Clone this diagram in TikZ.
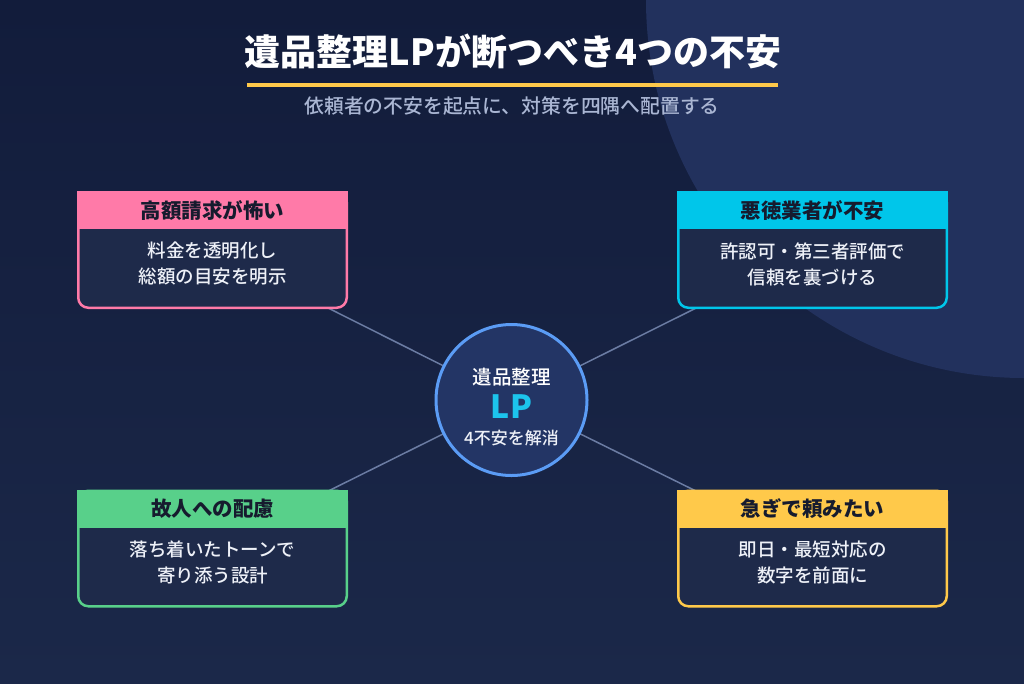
\documentclass[tikz,border=0pt]{standalone}
\usepackage{fontspec}
\setmainfont{Noto Sans CJK JP}
\newfontfamily\jpmed{Noto Sans CJK JP Medium}
\usetikzlibrary{positioning}
\definecolor{bgtop}{HTML}{121C3B}
\definecolor{bgbot}{HTML}{1B2849}
\definecolor{blob}{HTML}{22315D}
\definecolor{cardbg}{HTML}{1E2A4A}
\definecolor{headtxt}{HTML}{161B2E}
\definecolor{bodytxt}{HTML}{EEF1F8}
\definecolor{subtxt}{HTML}{AAB6D3}
\definecolor{linkc}{HTML}{6B7CA3}
\definecolor{hubbg}{HTML}{233565}
\definecolor{hubline}{HTML}{5B9CF5}
\definecolor{lpc}{HTML}{1CC4EC}
\definecolor{pinkc}{HTML}{FF7AA8}
\definecolor{cyanc}{HTML}{00C6EA}
\definecolor{greenc}{HTML}{58D08A}
\definecolor{yellowc}{HTML}{FFC94A}
\tikzset{
    card/.style={draw, line width=2.5pt, fill=cardbg, rounded corners=10pt,
      minimum width=268.5pt, minimum height=115.5pt, inner sep=0pt}, % frame of a box
    head/.style={minimum width=271pt, minimum height=38pt, inner sep=0pt,
      text=headtxt, font=\bfseries\fontsize{20.5}{24}\selectfont},
    body/.style={align=center, text=bodytxt, font=\jpmed\fontsize{18.5}{26}\selectfont},
    link/.style={draw=linkc, line width=1.5pt},
    hub/.style={circle, draw=hubline, line width=3pt, fill=hubbg,
      minimum size=151pt, inner sep=0pt},
}

\begin{document}
\begin{tikzpicture}[x=1pt, y=-1pt]
  \useasboundingbox (0,0) rectangle (1024,683);
  \fill[top color=bgtop, bottom color=bgbot] (0,0) rectangle (1024,683);
  \begin{scope}
    \clip (0,0) rectangle (1024,683);
    \fill[blob] (1024,0) circle[radius=378];
  \end{scope}

  \node[text=white, font=\bfseries\fontsize{36}{40}\selectfont] (title) at (513,51) {遺品整理LPが断つべき4つの不安};
  \coordinate (u1) at (247,85);
  \coordinate (u2) at (778,85);
  \draw[yellowc, line width=3.5pt] (u1) -- (u2);
  \node[text=subtxt, font=\jpmed\fontsize{19.8}{22}\selectfont] (sub) at (512,106) {依頼者の不安を起点に、対策を四隅へ配置する};

  \coordinate (hc) at (511.5,400);
  \coordinate (k1) at (212.5,250);
  \coordinate (k2) at (812.5,250);
  \coordinate (k3) at (212.5,548.5);
  \coordinate (k4) at (812.5,548.5);
  \draw[link] (hc) -- (k1);
  \draw[link] (hc) -- (k2);
  \draw[link] (hc) -- (k3);
  \draw[link] (hc) -- (k4);

  \node[card, draw=pinkc] (c1) at (k1) {};
  \node[head, fill=pinkc] (h1) at (212.5,210) {高額請求が怖い};
  \node[body] (t1) at (212.5,264) {料金を透明化し\\総額の目安を明示};

  \node[card, draw=cyanc] (c2) at (k2) {};
  \node[head, fill=cyanc] (h2) at (812.5,210) {悪徳業者が不安};
  \node[body] (t2) at (812.5,264) {許認可・第三者評価で\\信頼を裏づける};

  \node[card, draw=greenc] (c3) at (k3) {};
  \node[head, fill=greenc] (h3) at (212.5,508.5) {故人への配慮};
  \node[body] (t3) at (212.5,562) {落ち着いたトーンで\\寄り添う設計};

  \node[card, draw=yellowc] (c4) at (k4) {};
  \node[head, fill=yellowc] (h4) at (812.5,508.5) {急ぎで頼みたい};
  \node[body] (t4) at (812.5,562) {即日・最短対応の\\数字を前面に};

  \node[hub] (hub) at (hc) {};
  \node[text=white, font=\jpmed\fontsize{19.5}{22}\selectfont] (hub1) at (511.5,377) {遺品整理};
  \node[text=lpc, font=\bfseries\fontsize{32}{34}\selectfont] (hub2) at (511.5,407) {LP};
  \node[text=bodytxt, font=\jpmed\fontsize{17}{20}\selectfont] (hub3) at (511.5,438) {4不安を解消};
\end{tikzpicture}
\end{document}
